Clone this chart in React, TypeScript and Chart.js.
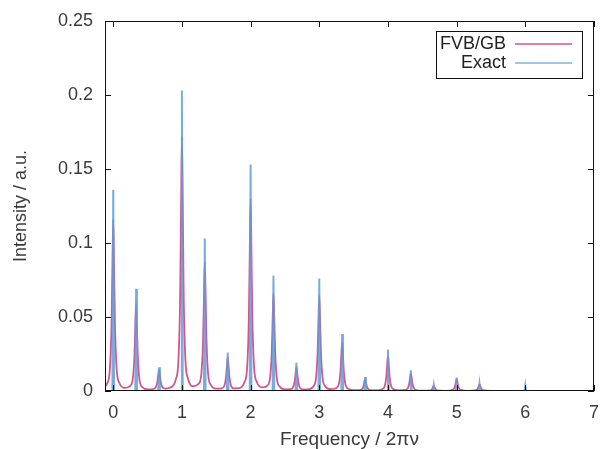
import React, { useEffect, useRef } from "react";
import { Chart, registerables } from "chart.js";

Chart.register(...registerables);

// FVB/GB (broadened) curve
const fvbX = [
  -0.12, -0.09, -0.05, -0.025, -0.012, 0, 0.012, 0.025, 0.05, 0.09,
  0.167, 0.243, 0.283, 0.308, 0.321, 0.333, 0.345, 0.358, 0.383, 0.423,
  0.5, 0.577, 0.617, 0.642, 0.655, 0.667, 0.679, 0.692, 0.717, 0.757,
  0.833, 0.91, 0.95, 0.975, 0.988, 1, 1.012, 1.025, 1.05, 1.09,
  1.167, 1.243, 1.283, 1.308, 1.321, 1.333, 1.345, 1.358, 1.383, 1.423,
  1.5, 1.577, 1.617, 1.642, 1.655, 1.667, 1.679, 1.692, 1.717, 1.757,
  1.833, 1.91, 1.95, 1.975, 1.988, 2, 2.012, 2.025, 2.05, 2.09,
  2.167, 2.243, 2.283, 2.308, 2.321, 2.333, 2.345, 2.358, 2.383, 2.423,
  2.5, 2.577, 2.617, 2.642, 2.655, 2.667, 2.679, 2.692, 2.717, 2.757,
  2.833, 2.91, 2.95, 2.975, 2.988, 3, 3.012, 3.025, 3.05, 3.09,
  3.167, 3.243, 3.283, 3.308, 3.321, 3.333, 3.345, 3.358, 3.383, 3.423,
  3.5, 3.577, 3.617, 3.642, 3.655, 3.667, 3.679, 3.692, 3.717, 3.757,
  3.833, 3.91, 3.95, 3.975, 3.988, 4, 4.012, 4.025, 4.05, 4.09,
  4.167, 4.243, 4.283, 4.308, 4.321, 4.333, 4.345, 4.358, 4.383, 4.423,
  4.5, 4.617, 4.642, 4.655, 4.667, 4.679, 4.692, 4.717,
  4.833, 4.95, 4.975, 4.988, 5, 5.012, 5.025, 5.05,
  5.167, 5.283, 5.308, 5.321, 5.333, 5.345, 5.358, 5.383,
  5.5, 7,
];
const fvbY = [
  0.003, 0.005, 0.0143, 0.045, 0.084, 0.116, 0.084, 0.045, 0.0146, 0.0054,
  0.0021, 0.0033, 0.0078, 0.023, 0.043, 0.059, 0.043, 0.023, 0.0073, 0.0027,
  0.0011, 0.0013, 0.0023, 0.006, 0.0105, 0.0142, 0.0105, 0.006, 0.0025, 0.0016,
  0.0023, 0.0077, 0.0213, 0.067, 0.126, 0.172, 0.126, 0.067, 0.0217, 0.0081,
  0.0032, 0.0049, 0.0116, 0.034, 0.0635, 0.087, 0.0635, 0.034, 0.0108, 0.004,
  0.0016, 0.0018, 0.0034, 0.0093, 0.0167, 0.0227, 0.0167, 0.0093, 0.0033, 0.0018,
  0.0019, 0.0059, 0.0161, 0.0508, 0.095, 0.13, 0.095, 0.0508, 0.0164, 0.0062,
  0.0024, 0.0037, 0.0088, 0.0258, 0.0483, 0.066, 0.0483, 0.0258, 0.0082, 0.003,
  0.0011, 0.0012, 0.0025, 0.0067, 0.012, 0.0163, 0.012, 0.0067, 0.0023, 0.0011,
  0.001, 0.0029, 0.008, 0.0251, 0.047, 0.0645, 0.047, 0.0251, 0.0081, 0.0031,
  0.0012, 0.0019, 0.0044, 0.0128, 0.024, 0.0328, 0.024, 0.0128, 0.0041, 0.0015,
  0.0005, 0.0006, 0.0011, 0.003, 0.0058, 0.0079, 0.0058, 0.003, 0.0011, 0.0005,
  0.0004, 0.0011, 0.0029, 0.0093, 0.0173, 0.0237, 0.0173, 0.0093, 0.0029, 0.0012,
  0.0004, 0.0007, 0.0015, 0.0046, 0.0087, 0.0119, 0.0087, 0.0046, 0.0015, 0.0005,
  0.0002, 0.0004, 0.0012, 0.0025, 0.0034, 0.0025, 0.0012, 0.0004,
  0.0001, 0.001, 0.003, 0.0058, 0.0079, 0.0058, 0.003, 0.001,
  0.0001, 0.0006, 0.0018, 0.0033, 0.0045, 0.0033, 0.0018, 0.0006,
  0.0001, 0,
];

// Exact spectrum (narrow lines)
const exactX = [
  -0.12,
  -0.012, 0, 0.012,
  0.321, 0.333, 0.345,
  0.655, 0.667, 0.679,
  0.988, 1, 1.012,
  1.321, 1.333, 1.345,
  1.655, 1.667, 1.679,
  1.988, 2, 2.012,
  2.321, 2.333, 2.345,
  2.655, 2.667, 2.679,
  2.988, 3, 3.012,
  3.321, 3.333, 3.345,
  3.655, 3.667, 3.679,
  3.988, 4, 4.012,
  4.321, 4.333, 4.345,
  4.655, 4.667, 4.679,
  4.988, 5, 5.012,
  5.321, 5.333, 5.345,
  5.988, 6, 6.012,
  7,
];
const exactY = [
  0,
  0, 0.136, 0,
  0, 0.069, 0,
  0, 0.016, 0,
  0, 0.203, 0,
  0, 0.103, 0,
  0, 0.026, 0,
  0, 0.153, 0,
  0, 0.078, 0,
  0, 0.019, 0,
  0, 0.076, 0,
  0, 0.0385, 0,
  0, 0.0095, 0,
  0, 0.028, 0,
  0, 0.014, 0,
  0, 0.004, 0,
  0, 0.009, 0,
  0, 0.005, 0,
  0, 0.004, 0,
  0,
];

const xTickValues = [0, 1, 2, 3, 4, 5, 6, 7];
const xTickLabels = ["0", "1", "2", "3", "4", "5", "6", "7"];
const yTickValues = [0, 0.05, 0.1, 0.15, 0.2, 0.25];
const yTickLabels = ["0", "0.05", "0.1", "0.15", "0.2", "0.25"];
const seriesNames = ["FVB/GB", "Exact"];

const PINK = "rgb(212,84,145)";
const BLUE = "rgba(95,158,215,0.85)";
const FONT = "'Liberation Sans', Arial, sans-serif";
const TEXT = "#3a3a3a";

const framePlugin = {
  id: "frameTicks",
  afterDraw(chart: any) {
    const { ctx, chartArea } = chart;
    const { left, right, top, bottom } = chartArea;
    ctx.save();
    ctx.strokeStyle = "#111";
    ctx.lineWidth = 1;
    ctx.strokeRect(Math.round(left) + 0.5, Math.round(top) + 0.5, Math.round(right - left) - 1, Math.round(bottom - top) - 1);
    const tl = 6;
    ctx.beginPath();
    const xs = chart.scales.x;
    xTickValues.forEach((v) => {
      const px = Math.round(xs.getPixelForValue(v)) + 0.5;
      ctx.moveTo(px, bottom);
      ctx.lineTo(px, bottom - tl);
      ctx.moveTo(px, top);
      ctx.lineTo(px, top + tl);
    });
    const ys = chart.scales.y;
    yTickValues.forEach((v) => {
      const py = Math.round(ys.getPixelForValue(v)) + 0.5;
      ctx.moveTo(left, py);
      ctx.lineTo(left + tl, py);
      ctx.moveTo(right, py);
      ctx.lineTo(right - tl, py);
    });
    ctx.stroke();

    // legend box
    const bx = 436, by = 31, bw = 146, bh = 47;
    ctx.fillStyle = "#fff";
    ctx.fillRect(bx, by, bw, bh);
    ctx.strokeStyle = "#111";
    ctx.strokeRect(bx + 0.5, by + 0.5, bw, bh);
    ctx.font = `18px ${FONT}`;
    ctx.fillStyle = "#222";
    ctx.textAlign = "right";
    ctx.textBaseline = "middle";
    const rows = [by + 13, by + 32];
    const cols = [PINK, "rgb(130,180,225)"];
    seriesNames.forEach((name, i) => {
      ctx.fillText(name, bx + 70, rows[i]);
      ctx.beginPath();
      ctx.strokeStyle = cols[i];
      ctx.lineWidth = 1.5;
      ctx.moveTo(bx + 79, rows[i]);
      ctx.lineTo(bx + 136, rows[i]);
      ctx.stroke();
    });
    ctx.restore();
  },
};

export default function App() {
  const ref = useRef<HTMLCanvasElement | null>(null);
  useEffect(() => {
    if (!ref.current) return;
    const chart = new Chart(ref.current, {
      type: "line",
      data: {
        datasets: [
          {
            label: seriesNames[0],
            data: fvbX.map((x, i) => ({ x, y: fvbY[i] })),
            borderColor: PINK,
            borderWidth: 1.8,
            pointRadius: 0,
            cubicInterpolationMode: "monotone",
            fill: false,
            order: 1,
          },
          {
            label: seriesNames[1],
            data: exactX.map((x, i) => ({ x, y: exactY[i] })),
            borderColor: BLUE,
            borderWidth: 2,
            pointRadius: 0,
            tension: 0,
            fill: false,
            order: 0,
          },
        ],
      },
      options: {
        animation: false,
        responsive: true,
        maintainAspectRatio: false,
        parsing: false,
        layout: { padding: { top: 21, right: 6, left: 0, bottom: 0 } },
        plugins: { legend: { display: false }, tooltip: { enabled: false } },
        scales: {
          x: {
            type: "linear",
            min: -0.12,
            max: 7,
            grid: { display: false, drawTicks: false },
            border: { display: false },
            afterBuildTicks: (s: any) => {
              s.ticks = xTickValues.map((v) => ({ value: v }));
            },
            afterFit: (s: any) => {
              s.height = 58;
              s.paddingLeft = 0;
              s.paddingRight = 0;
              s.paddingTop = 0;
              s.paddingBottom = 0;
            },
            ticks: {
              padding: 11,
              color: TEXT,
              font: { family: FONT, size: 18 },
              maxRotation: 0,
              callback: (v: any) => {
                const i = xTickValues.indexOf(Number(v));
                return i >= 0 ? xTickLabels[i] : "";
              },
            },
            title: {
              display: true,
              text: "Frequency / 2πν",
              color: TEXT,
              font: { family: FONT, size: 19 },
              padding: { top: 0, bottom: -2 },
            },
          },
          y: {
            type: "linear",
            min: 0,
            max: 0.25,
            grid: { display: false, drawTicks: false },
            border: { display: false },
            afterBuildTicks: (s: any) => {
              s.ticks = yTickValues.map((v) => ({ value: v }));
            },
            afterFit: (s: any) => {
              s.width = 105;
              s.paddingLeft = 0;
              s.paddingRight = 0;
              s.paddingTop = 0;
              s.paddingBottom = 0;
            },
            ticks: {
              padding: 12,
              color: TEXT,
              font: { family: FONT, size: 18 },
              callback: (v: any) => {
                const i = yTickValues.findIndex((t) => Math.abs(t - Number(v)) < 1e-9);
                return i >= 0 ? yTickLabels[i] : "";
              },
            },
            title: {
              display: true,
              text: "Intensity / a.u.",
              color: TEXT,
              font: { family: FONT, size: 18 },
              padding: { top: 10, bottom: 0 },
            },
          },
        },
      },
      plugins: [framePlugin],
    } as any);
    return () => chart.destroy();
  }, []);
  return (
    <div style={{ position: "absolute", left: 0, top: 0, width: 600, height: 449, background: "#fff" }}>
      <canvas ref={ref} />
    </div>
  );
}
